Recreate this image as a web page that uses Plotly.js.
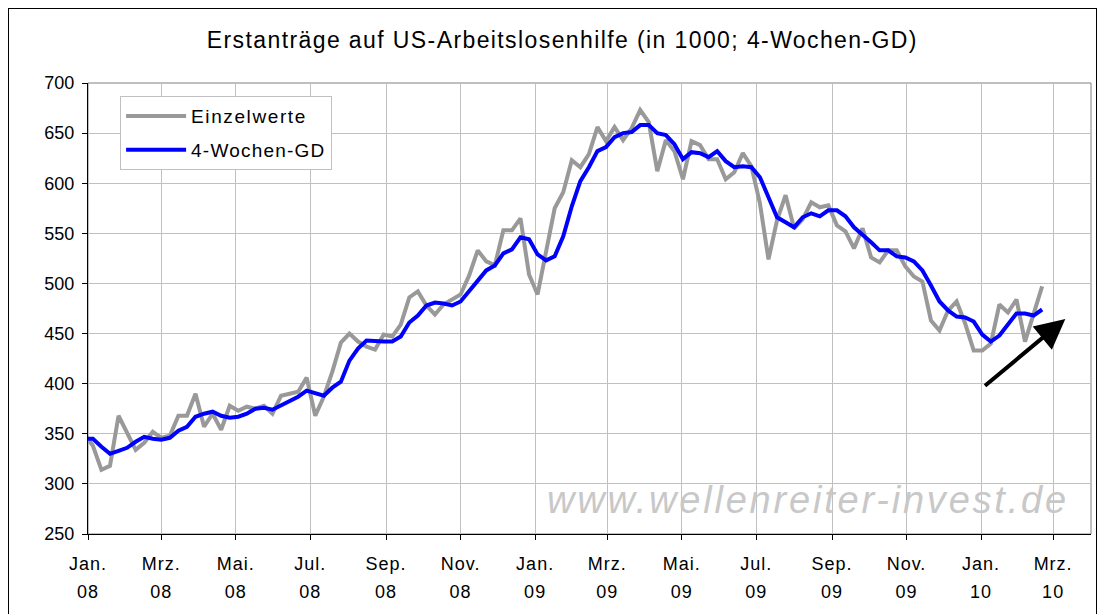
<!DOCTYPE html>
<html>
<head>
<meta charset="utf-8">
<script src="https://cdn.plot.ly/plotly-3.0.1.min.js"></script>
<style>
  html, body { margin: 0; padding: 0; background: #ffffff; overflow: hidden; }
  #wrap { position: relative; width: 1107px; height: 614px; }
  #chart { width: 1107px; height: 614px; }
  #frame { position: absolute; left: 8px; top: 8px; width: 1089px; height: 700px;
           border: 1px solid #000; pointer-events: none; box-sizing: border-box; }
</style>
</head>
<body>
<div id="wrap">
  <div id="chart"></div>
  <div id="frame"></div>
</div>
<script>
// Weekly data (week ending Saturday), first week ending 2007-12-29, last 2010-02-20
const firstWeek = '2007-12-29';

const einzelwerte = [
  350, 338, 314, 318, 368, 350, 334, 341, 352, 346, 348, 368, 368, 390, 357, 370,
  354, 378, 373, 377, 375, 378, 370, 388, 390, 392, 406, 368, 387, 412, 441, 450,
  442, 437, 434, 449, 447, 459, 486, 492, 478, 469, 479, 484, 489, 508, 533, 522,
  518, 553, 553, 565, 509, 489, 530, 575, 591, 623, 616, 629, 656, 642, 656, 643,
  655, 673, 661, 612, 643, 632, 604, 642, 638, 624, 624, 604, 611, 630, 617, 580,
  524, 563, 588, 555, 564, 581, 576, 578, 558, 552, 535, 555, 526, 521, 533, 533,
  517, 507, 502, 463, 453, 473, 482, 460, 433, 433, 440, 479, 471, 484, 442, 470,
  497
];

const wochenGD = [
  345, 345, 337, 330, 333, 336, 342, 347, 345, 344, 346, 353, 357, 367, 370, 372,
  368, 366, 367, 370, 375, 376, 374, 378, 383, 387, 393, 390, 388, 396, 402, 423,
  435, 443, 442, 442, 442, 447, 461, 468, 478, 481, 480, 478, 482, 492, 503, 513,
  518, 530, 534, 546, 544, 529, 523, 527, 547, 577, 602, 616, 632, 636, 646, 650,
  651, 658, 658, 650, 648, 639, 624, 631, 630, 626, 632, 622, 616, 617, 616, 606,
  586, 566, 561, 556, 566, 570, 567, 573, 573, 567, 556, 549, 541, 533, 533, 527,
  526, 522, 513, 498, 482, 473, 467, 466, 462, 449, 442, 448, 459, 470, 470, 468,
  474
];

const tickDates = ['2008-01-01','2008-03-01','2008-05-01','2008-07-01','2008-09-01','2008-11-01',
                   '2009-01-01','2009-03-01','2009-05-01','2009-07-01','2009-09-01','2009-11-01',
                   '2010-01-01','2010-03-01'];
const tickMonths = ['Jan.','Mrz.','Mai.','Jul.','Sep.','Nov.','Jan.','Mrz.','Mai.','Jul.','Sep.','Nov.','Jan.','Mrz.'];
const tickYears  = ['08','08','08','08','08','08','09','09','09','09','09','09','10','10'];

const yTicks = [250, 300, 350, 400, 450, 500, 550, 600, 650, 700];

const titleText = 'Erstanträge auf US-Arbeitslosenhilfe (in 1000; 4-Wochen-GD)';
const watermark = 'www.wellenreiter-invest.de';

// weekly dates
function weekDates(start, n) {
  const out = [];
  const d0 = new Date(start + 'T00:00:00Z');
  for (let i = 0; i < n; i++) {
    const d = new Date(d0.getTime() + i * 7 * 86400000);
    out.push(d.toISOString().slice(0, 10));
  }
  return out;
}
const dates = weekDates(firstWeek, einzelwerte.length);

const FONT = 'Liberation Sans, Arial, Helvetica, sans-serif';
const sp = (t, px) => "<span style='letter-spacing:" + px + "px'>" + t + "</span>";

const traces = [
  { x: dates, y: einzelwerte, type: 'scatter', mode: 'lines', name: sp('Einzelwerte', 1.6),
    line: { color: '#999999', width: 4 }, legendgroup: 'a', hoverinfo: 'skip' },
  { x: dates, y: wochenGD, type: 'scatter', mode: 'lines', name: sp('4-Wochen-GD', 1.2),
    line: { color: '#0000ff', width: 4 }, legendgroup: 'b', hoverinfo: 'skip' },
  { x: [dates[0]], y: [null], xaxis: 'x2', yaxis: 'y', type: 'scatter', mode: 'lines',
    showlegend: false, hoverinfo: 'skip' }
];

const layout = {
  width: 1107, height: 614,
  margin: { l: 88, r: 16, t: 83, b: 80, pad: 0 },
  paper_bgcolor: '#ffffff', plot_bgcolor: '#ffffff',
  font: { family: FONT, size: 18, color: '#000000' },
  title: { text: sp(titleText, 1.4),
           font: { family: FONT, size: 23, color: '#000' },
           x: 0.508, xref: 'container', xanchor: 'center',
           y: 1 - 40 / 614, yref: 'container', yanchor: 'middle' },
  showlegend: true,
  legend: { x: 0.032, y: 0.971, xanchor: 'left', yanchor: 'top',
            bgcolor: '#ffffff', bordercolor: '#c0c0c0', borderwidth: 1,
            font: { family: FONT, size: 19 }, itemwidth: 60,
            traceorder: 'grouped', tracegroupgap: 6 },
  xaxis: {
    type: 'date', range: ['2008-01-01', '2010-04-01'],
    tickmode: 'array', tickvals: tickDates, ticktext: tickMonths.map(t => sp(t, 1)),
    ticks: 'outside', ticklen: 5, tickcolor: '#000', tickwidth: 1,
    showline: true, linecolor: '#000', linewidth: 1,
    showgrid: true, gridcolor: '#c0c0c0', gridwidth: 1, zeroline: false,
    tickfont: { family: FONT, size: 18 }, ticklabelstandoff: 8
  },
  xaxis2: {
    type: 'date', range: ['2008-01-01', '2010-04-01'], matches: 'x', overlaying: 'x', anchor: 'y',
    tickmode: 'array', tickvals: tickDates, ticktext: tickYears.map(t => sp(t, 1)),
    ticks: '', showline: false, showgrid: false, zeroline: false, side: 'bottom',
    tickfont: { family: FONT, size: 18 }, ticklabelstandoff: 45
  },
  yaxis: {
    range: [250, 700], tickmode: 'array', tickvals: yTicks,
    ticks: 'outside', ticklen: 5, tickcolor: '#000', tickwidth: 1,
    showline: true, linecolor: '#000', linewidth: 1,
    showgrid: true, gridcolor: '#c0c0c0', gridwidth: 1, zeroline: false,
    tickfont: { family: FONT, size: 18 }, ticklabelstandoff: 4
  },
  shapes: [
    { type: 'rect', xref: 'paper', yref: 'paper', x0: 0, x1: 1, y0: 0, y1: 1,
      line: { color: '#808080', width: 1 }, layer: 'below' }
  ],
  annotations: [
    { xref: 'paper', yref: 'paper', x: 0.718, y: 0.075, xanchor: 'center', yanchor: 'middle',
      text: '<i>' + sp(watermark, 2.8) + '</i>', showarrow: false,
      font: { family: FONT, size: 38, color: '#c8c8c8' } },
    { xref: 'x', yref: 'y', x: '2010-03-11', y: 464.6,
      axref: 'x', ayref: 'y', ax: '2010-01-03', ay: 396.7,
      text: '', showarrow: true, arrowhead: 2, arrowsize: 1.5, arrowwidth: 4, arrowcolor: '#000' }
  ]
};

Plotly.newPlot('chart', traces, layout, { staticPlot: true, displayModeBar: false });
</script>
</body>
</html>
